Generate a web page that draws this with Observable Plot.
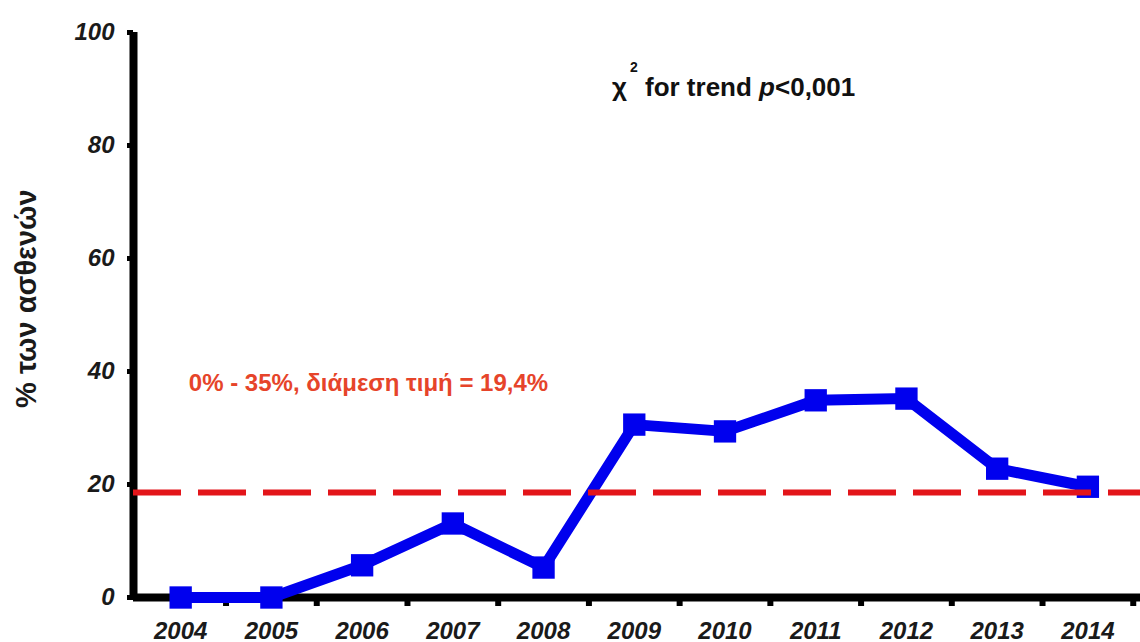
<!DOCTYPE html>
<html>
<head>
<meta charset="utf-8">
<script src="https://cdn.jsdelivr.net/npm/d3@7"></script>
<script src="https://cdn.jsdelivr.net/npm/@observablehq/plot@0.6"></script>
<style>
  html, body { margin: 0; padding: 0; background: #ffffff; }
  #chart { width: 1140px; height: 642px; overflow: hidden; }
</style>
</head>
<body>
<div id="chart"></div>
<script>
// ---- data ----
const years = [2004, 2005, 2006, 2007, 2008, 2009, 2010, 2011, 2012, 2013, 2014];
const percentPatients = [0, 0, 5.7, 13.1, 5.3, 30.6, 29.4, 34.9, 35.2, 22.8, 19.6];
const yTicks = [0, 20, 40, 60, 80, 100];
const medianLevel = 18.6;
const yLabel = "% των ασθενών";
const rangeNote = "0% - 35%, διάμεση τιμή = 19,4%";
const trendSymbol = "χ";
const trendSup = "2";
const trendText = " for trend ";
const trendP = "p";
const trendValue = "<0,001";

// annotation anchors (data units)
const rangeNoteAt = {x: 2004.09, y: 37.9};
const trendNoteAt = {x: 2008.76, y: 88.7};

const xDomain = [2003.48, 2014.58];
const rows = years.map((yr, i) => ({year: yr, value: percentPatients[i]}));
const bandEdges = years.map(yr => yr + 0.5);

const font = "'Liberation Sans', Arial, Helvetica, sans-serif";
const blue = "#0000ee";

const plot = Plot.plot({
  width: 1140,
  height: 642,
  marginTop: 32,
  marginBottom: 45,
  marginLeft: 133,
  marginRight: 0,
  style: {fontFamily: font, background: "#ffffff", overflow: "visible"},
  x: {type: "linear", domain: xDomain},
  y: {domain: [0, 100]},
  marks: [
    // y axis ticks & labels
    Plot.axisY(yTicks, {
      tickSize: 6, strokeWidth: 5, stroke: "#000", tickPadding: 13,
      tickFormat: d => String(d), label: null,
      fontSize: 24, fontWeight: "bold", fontStyle: "italic", fill: "#1a1a1a"
    }),
    // x axis tick marks between years
    Plot.axisX(bandEdges, {
      tickSize: 9, strokeWidth: 6, stroke: "#000",
      tickFormat: () => "", label: null
    }),
    // x axis year labels
    Plot.axisX(years, {
      tickSize: 0, tickPadding: 24, tickFormat: d => String(d), label: null,
      fontSize: 24, fontWeight: "bold", fontStyle: "italic", fill: "#1a1a1a"
    }),
    // axis lines
    Plot.ruleY([0], {stroke: "#000", strokeWidth: 8}),
    Plot.ruleX([xDomain[0]], {y1: 0, y2: 100, stroke: "#000", strokeWidth: 8}),
    // series
    Plot.line(rows, {x: "year", y: "value", stroke: blue, strokeWidth: 11, strokeLinejoin: "round"}),
    Plot.dot(rows, {x: "year", y: "value", symbol: "square", r: 12.6, fill: blue, stroke: "none"}),
    // median line
    Plot.ruleY([medianLevel], {stroke: "#e3151a", strokeWidth: 6, strokeDasharray: "48,17"}),
    // range note
    Plot.text([rangeNote], {
      x: rangeNoteAt.x, y: rangeNoteAt.y, textAnchor: "start",
      fontSize: 24, fontWeight: "bold", fill: "#e6442a"
    }),
    // y axis title
    Plot.text([yLabel], {
      frameAnchor: "left", y: 52.9, dx: -107, rotate: -90, textAnchor: "middle",
      fontSize: 29, fontWeight: "bold", fill: "#1a1a1a",
      letterSpacing: "1px"
    })
  ]
});

// trend annotation with superscript and italic p
const sx = plot.scale("x"), sy = plot.scale("y");
const t = d3.select(plot).append("text")
  .attr("x", sx.apply(trendNoteAt.x))
  .attr("y", sy.apply(trendNoteAt.y))
  .attr("text-anchor", "start")
  .attr("font-family", font)
  .attr("font-size", 26)
  .attr("font-weight", "bold")
  .attr("fill", "#111");
t.append("tspan").text(trendSymbol);
t.append("tspan").attr("font-size", 14).attr("dy", -24).attr("dx", 3).text(trendSup);
t.append("tspan").attr("dy", 24).text(trendText);
t.append("tspan").attr("font-style", "italic").text(trendP);
t.append("tspan").text(trendValue);

document.getElementById("chart").appendChild(plot);
</script>
</body>
</html>
